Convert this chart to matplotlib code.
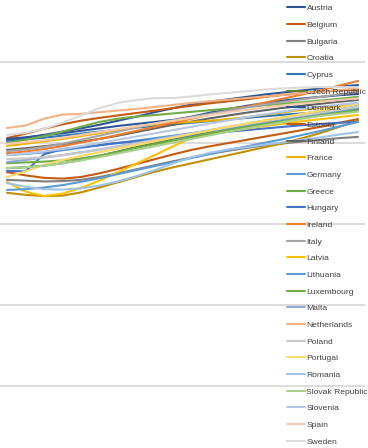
import numpy as np
import matplotlib
matplotlib.use("Agg")
import matplotlib.pyplot as plt

plt.rcParams['font.family'] = ['Liberation Sans', 'DejaVu Sans']

years = np.arange(2000, 2020)

countries = ['Austria', 'Belgium', 'Bulgaria', 'Croatia', 'Cyprus', 'Czech Republic',
             'Denmark', 'Estonia', 'Finland', 'France', 'Germany', 'Greece', 'Hungary',
             'Ireland', 'Italy', 'Latvia', 'Lithuania', 'Luxembourg', 'Malta',
             'Netherlands', 'Poland', 'Portugal', 'Romania', 'Slovak Republic',
             'Slovenia', 'Spain', 'Sweden']

# index values, one list per country
austria = [60.7, 61.3, 62.0, 62.8, 63.6, 64.5, 65.5, 66.5, 67.6, 68.6, 69.5, 70.2, 70.8, 71.4, 72.0, 72.5, 73.0, 73.5, 73.9, 74.3]
belgium = [61.2, 62.3, 63.5, 64.6, 65.5, 66.2, 66.8, 67.4, 68.0, 68.6, 69.2, 69.8, 70.3, 70.8, 71.4, 71.9, 72.3, 72.7, 73.0, 73.1]
bulgaria = [50.9, 50.7, 50.5, 50.6, 50.9, 51.6, 52.5, 53.5, 54.5, 55.5, 56.4, 57.3, 58.1, 58.8, 59.4, 59.9, 60.4, 60.8, 61.2, 61.5]
croatia = [47.7, 47.2, 46.9, 47.0, 47.8, 49.0, 50.3, 51.6, 52.9, 54.0, 55.0, 56.0, 57.0, 58.0, 59.0, 60.0, 61.2, 62.5, 64.0, 65.5]
cyprus = [60.5, 60.9, 61.3, 61.8, 62.3, 62.8, 63.3, 63.8, 64.2, 64.6, 65.0, 65.4, 65.8, 66.2, 66.6, 67.0, 67.3, 67.6, 67.9, 68.1]
czech = [53.8, 54.0, 54.4, 55.0, 55.8, 56.8, 57.9, 59.0, 60.0, 61.0, 61.9, 62.8, 63.6, 64.4, 65.2, 66.0, 66.7, 67.4, 68.0, 68.6]
denmark = [61.0, 61.4, 61.9, 62.4, 63.0, 63.6, 64.2, 64.7, 65.2, 65.7, 66.5, 67.5, 68.4, 69.2, 69.9, 70.5, 71.0, 71.4, 71.8, 72.1]
estonia = [52.8, 52.0, 51.4, 51.2, 51.6, 52.5, 53.6, 54.8, 56.0, 57.2, 58.3, 59.2, 60.0, 60.8, 61.6, 62.4, 63.2, 64.0, 65.0, 65.9]
finland = [58.3, 58.7, 59.2, 59.7, 60.3, 61.0, 61.8, 62.7, 63.6, 64.5, 65.3, 66.1, 66.8, 67.5, 68.1, 68.7, 69.2, 69.7, 70.2, 70.6]
france = [59.3, 59.8, 60.4, 61.0, 61.7, 62.4, 63.2, 64.0, 64.6, 65.0, 65.2, 65.5, 65.9, 66.4, 67.0, 67.6, 68.2, 68.7, 69.2, 69.6]
germany = [57.0, 57.3, 57.7, 58.2, 58.8, 59.4, 60.0, 60.6, 61.2, 61.8, 62.4, 63.0, 63.6, 64.2, 64.9, 65.6, 66.3, 67.0, 67.8, 68.6]
greece = [60.0, 60.8, 61.7, 62.8, 64.0, 65.2, 66.0, 66.5, 66.9, 67.3, 67.7, 68.1, 68.5, 68.9, 69.3, 69.7, 70.1, 70.5, 70.9, 71.4]
hungary = [53.1, 53.0, 57.2, 58.5, 59.0, 59.5, 60.0, 60.4, 60.8, 61.2, 61.8, 62.3, 62.8, 63.2, 63.6, 64.0, 64.4, 64.7, 65.0, 65.2]
ireland = [57.5, 57.9, 58.5, 59.2, 60.1, 61.0, 62.0, 63.0, 64.0, 65.0, 66.0, 67.0, 68.0, 69.0, 70.0, 71.0, 72.0, 73.0, 74.2, 75.3]
italy = [58.0, 58.4, 59.0, 59.8, 60.8, 61.8, 62.8, 63.8, 64.8, 65.6, 66.4, 67.2, 68.0, 68.8, 69.5, 70.2, 70.8, 71.4, 72.0, 72.6]
latvia = [50.4, 48.0, 46.9, 47.5, 48.9, 50.7, 52.8, 54.9, 57.0, 59.2, 61.3, 62.3, 63.0, 63.6, 64.2, 64.8, 65.4, 65.9, 66.4, 66.9]
lithuania = [48.4, 48.6, 49.0, 49.6, 50.4, 51.3, 52.3, 53.3, 54.3, 55.3, 56.3, 57.3, 58.3, 59.2, 60.1, 61.0, 62.0, 63.0, 64.1, 65.2]
luxembourg = [55.0, 55.2, 55.4, 55.7, 56.2, 56.9, 57.8, 58.8, 59.7, 60.6, 61.5, 62.4, 63.2, 64.0, 64.7, 65.4, 66.1, 66.8, 67.5, 68.1]
malta = [55.3, 55.8, 56.4, 57.0, 57.7, 58.4, 59.2, 60.0, 60.8, 61.6, 62.4, 63.2, 64.0, 64.8, 65.6, 66.4, 67.2, 68.0, 68.7, 69.4]
netherlands = [63.7, 64.3, 66.0, 67.0, 67.2, 67.6, 68.0, 68.4, 68.9, 69.4, 69.9, 70.3, 70.7, 71.1, 71.5, 71.9, 72.3, 72.7, 73.1, 73.5]
poland = [56.0, 56.2, 56.5, 57.0, 57.6, 58.3, 59.1, 59.9, 60.7, 61.5, 62.3, 63.1, 63.9, 64.7, 65.4, 66.1, 66.8, 67.5, 68.2, 68.9]
portugal = [51.6, 53.0, 54.6, 55.8, 56.8, 57.7, 58.6, 59.5, 60.4, 61.3, 62.2, 63.1, 64.0, 64.8, 65.6, 66.4, 67.2, 68.0, 68.8, 69.6]
romania = [50.1, 49.2, 48.6, 48.5, 48.8, 49.5, 50.5, 51.8, 53.3, 55.0, 56.5, 57.6, 58.4, 59.0, 59.6, 60.2, 60.8, 61.4, 62.1, 62.7]
slovakia = [53.8, 54.0, 54.4, 55.0, 55.7, 56.5, 57.4, 58.3, 59.2, 60.1, 61.0, 61.9, 62.8, 63.6, 64.4, 65.2, 66.0, 66.7, 67.2, 67.7]
slovenia = [57.0, 57.4, 57.9, 58.5, 59.2, 60.0, 60.8, 61.6, 62.4, 63.2, 64.0, 64.8, 65.6, 66.4, 67.1, 67.8, 68.5, 69.0, 69.5, 69.9]
spain = [59.8, 60.2, 60.7, 61.3, 62.0, 62.7, 63.4, 64.1, 64.8, 65.5, 66.2, 66.9, 67.6, 68.2, 68.8, 69.3, 69.8, 70.2, 70.6, 71.0]
sweden = [62.0, 62.5, 63.5, 65.0, 66.8, 68.6, 69.9, 70.6, 71.1, 71.1, 71.5, 72.0, 72.4, 72.8, 73.2, 73.5, 73.7, 73.8, 73.8, 73.8]

series = [austria, belgium, bulgaria, croatia, cyprus, czech, denmark, estonia, finland,
          france, germany, greece, hungary, ireland, italy, latvia, lithuania, luxembourg,
          malta, netherlands, poland, portugal, romania, slovakia, slovenia, spain, sweden]

colors = ['#2F5597', '#C55A11', '#7F7F7F', '#BF9000', '#2E75B6', '#548235',
          '#2F5597', '#C55A11', '#636363', '#EDB100', '#5B9BD5', '#70AD47',
          '#4472C4', '#ED7D31', '#A5A5A5', '#FFC000', '#5B9BD5', '#70AD47',
          '#8FAADC', '#F4B183', '#C9C9C9', '#FFD966', '#9DC3E6', '#A9D18E',
          '#B4C7E7', '#F8CBAD', '#DBDBDB']

fig = plt.figure(figsize=(3.68, 4.48), dpi=100)
ax = fig.add_axes([0, 0, 365 / 368, 1])

for name, vals, c in zip(countries, series, colors):
    ax.plot(years, vals, color=c, lw=1.5, label=name, solid_capstyle='round')

ax.set_xlim(1999.62, 2019.38)
ax.set_ylim(-15.3, 95.3)
ax.set_yticks([0, 20, 40, 60, 80])
ax.yaxis.grid(True, color='#D9D9D9', lw=1.3)
ax.set_axisbelow(True)
ax.tick_params(left=False, bottom=False, labelleft=False, labelbottom=False)
for s in ax.spines.values():
    s.set_visible(False)

leg = ax.legend(loc='upper left', bbox_to_anchor=(287 / 368, 1 - 4.5 / 448),
                bbox_transform=fig.transFigure, frameon=False, fontsize=6.1,
                handlelength=2.1, handletextpad=0.2, labelspacing=1.03,
                borderpad=0, borderaxespad=0)
for t in leg.get_texts():
    t.set_color('#404040')

fig.savefig('out.png', dpi=100)
